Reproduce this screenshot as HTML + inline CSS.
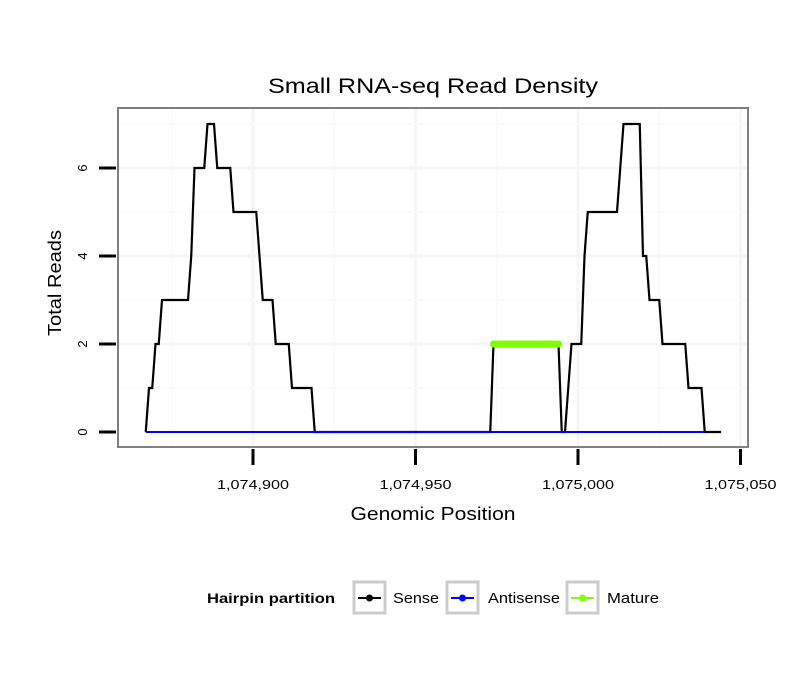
<!DOCTYPE html>
<html><head><meta charset="utf-8"><style>
html,body{margin:0;padding:0;background:#fff;}
svg text{font-family:"Liberation Sans",sans-serif;}
</style></head><body>
<svg id="chart" width="810" height="690" viewBox="0 0 810 690" xmlns="http://www.w3.org/2000/svg">
<rect x="0" y="0" width="810" height="690" fill="#fff"/>
<text x="433" y="93" font-size="21" text-anchor="middle" fill="#000" textLength="330" lengthAdjust="spacingAndGlyphs">Small RNA-seq Read Density</text>
<g id="grid"></g>
<g id="series"></g>
<rect x="118" y="108" width="630" height="339" fill="none" stroke="#808080" stroke-width="2"/>
<g id="axes"></g>
<text x="433" y="520" font-size="18" text-anchor="middle" fill="#000" textLength="165" lengthAdjust="spacingAndGlyphs">Genomic Position</text>
<text transform="translate(61,283) rotate(-90)" font-size="18" text-anchor="middle" fill="#000" textLength="106" lengthAdjust="spacingAndGlyphs">Total Reads</text>
<g>
<text x="207" y="603" font-size="14" font-weight="bold" fill="#000" textLength="128" lengthAdjust="spacingAndGlyphs">Hairpin partition</text>
<g>
<rect x="354" y="582" width="31" height="31" fill="#fff" stroke="#ccc" stroke-width="3"/>
<line x1="358" y1="598" x2="381" y2="598" stroke="#000" stroke-width="2"/><circle cx="369.5" cy="598" r="3.5" fill="#000"/>
<text x="393" y="603" font-size="15" fill="#000" textLength="46" lengthAdjust="spacingAndGlyphs">Sense</text></g>
<g>
<rect x="447" y="582" width="31" height="31" fill="#fff" stroke="#ccc" stroke-width="3"/>
<line x1="451" y1="598" x2="474" y2="598" stroke="#0000ff" stroke-width="2"/><circle cx="462.5" cy="598" r="3.5" fill="#0000ff"/>
<text x="488" y="603" font-size="15" fill="#000" textLength="72" lengthAdjust="spacingAndGlyphs">Antisense</text></g>
<g>
<rect x="567" y="582" width="31" height="31" fill="#fff" stroke="#ccc" stroke-width="3"/>
<line x1="571" y1="598" x2="594" y2="598" stroke="#7fff00" stroke-width="2"/><circle cx="582.5" cy="598" r="3.5" fill="#7fff00"/>
<text x="607" y="603" font-size="15" fill="#000" textLength="52" lengthAdjust="spacingAndGlyphs">Mature</text></g>
</g>
</svg>
<script>
const senseX = [1074867,1074868,1074869,1074870,1074871,1074872,1074880,1074881,1074882,1074885,1074886,1074888,1074889,1074893,1074894,1074901,1074902,1074903,1074906,1074907,1074911,1074912,1074918,1074919,1074973,1074974,1074994,1074995,1074996,1074998,1075001,1075002,1075003,1075012,1075014,1075019,1075020,1075021,1075022,1075025,1075026,1075033,1075034,1075038,1075039,1075044];
const senseY = [0,1,1,2,2,3,3,4,6,6,7,7,6,6,5,5,4,3,3,2,2,1,1,0,0,2,2,0,0,2,2,4,5,5,7,7,4,4,3,3,2,2,1,1,0,0];
const antisenseX = [1074867,1075039];
const antisenseY = [0,0];
const matureStart = 1074974, matureEnd = 1074994, matureValue = 2;
const xTicks = [1074900,1074950,1075000,1075050];
const xTickLabels = ["1,074,900","1,074,950","1,075,000","1,075,050"];
const yTicks = [0,2,4,6];

const NS="http://www.w3.org/2000/svg";
function xs(v){return 253+(v-1074900)*3.25;}
function ys(v){return 432-v*44;}
function mk(tag,attrs,parent){const e=document.createElementNS(NS,tag);for(const k in attrs)e.setAttribute(k,attrs[k]);parent.appendChild(e);return e;}
const grid=document.getElementById('grid'),ser=document.getElementById('series'),axes=document.getElementById('axes');
for(let v=1074875;v<=1075050;v+=25){const x=xs(v);if(x<118||x>748)continue;
 const l=mk('line',{x1:x,x2:x,y1:108,y2:447,stroke:v%50===0?'#f6f6f6':'#fbfbfb','stroke-width':v%50===0?3:2},grid);
 
 }
for(let v=1;v<=7;v+=1){const y=ys(v);if(y<108)continue;
 const l=mk('line',{x1:118,x2:748,y1:y,y2:y,stroke:v%2===0?'#f6f6f6':'#fbfbfb','stroke-width':v%2===0?3:2},grid);
 
 }
let p=senseX.map((x,i)=>xs(x)+','+ys(senseY[i])).join(' ');
const s=mk('polyline',{points:p,fill:'none',stroke:'#000','stroke-width':2.2,'stroke-linejoin':'miter'},ser);


p=antisenseX.map((x,i)=>xs(x)+','+ys(antisenseY[i])).join(' ');
const a=mk('polyline',{points:p,fill:'none',stroke:'#0000ff','stroke-width':2},ser);


for(let v=matureStart;v<=matureEnd;v+=0.5){
 const c=mk('circle',{cx:xs(v),cy:ys(matureValue),r:3.5,fill:'#7fff00'},ser);
 
 }
xTicks.forEach((v,i)=>{const x=xs(v);
 const t=mk('line',{x1:x,x2:x,y1:449,y2:465,stroke:'#000','stroke-width':3},axes);
 
 
 const tx=mk('text',{x:x,y:489,'font-size':13,'text-anchor':'middle',fill:'#000',textLength:72,lengthAdjust:'spacingAndGlyphs'},axes);
 tx.textContent=xTickLabels[i];
 
 });
yTicks.forEach(v=>{const y=ys(v);
 const t=mk('line',{x1:99,x2:116,y1:y,y2:y,stroke:'#000','stroke-width':3},axes);
 
 
 const tx=mk('text',{transform:'translate(87,'+y+') rotate(-90)','font-size':13,'text-anchor':'middle',fill:'#000'},axes);
 tx.textContent=String(v);
 
 });
</script>
</body></html>
